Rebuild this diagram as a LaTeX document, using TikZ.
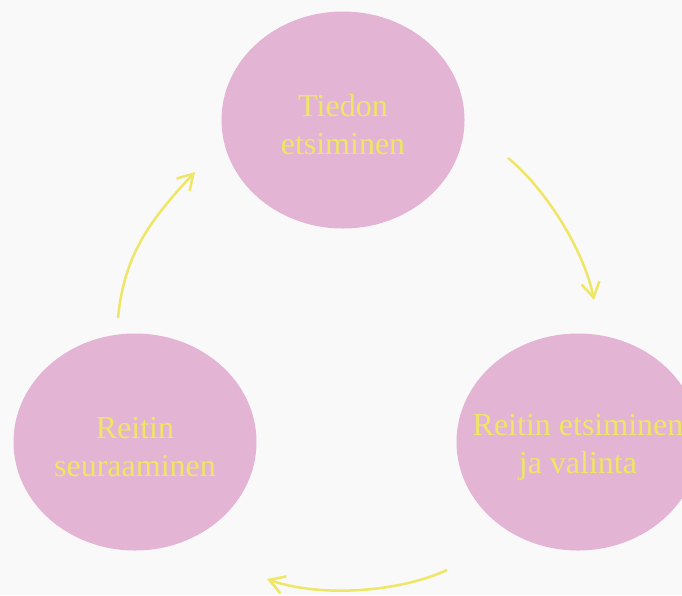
\documentclass[tikz,border=0pt]{standalone}
\usepackage{fontspec}
\setmainfont{Liberation Serif}
\usetikzlibrary{shapes.geometric, arrows.meta}
\definecolor{bgray}{RGB}{249,249,249}
\definecolor{stagepink}{RGB}{228,180,212}
\definecolor{stageyellow}{RGB}{238,230,100}
\tikzset{
  stage/.style = {ellipse, fill = stagepink, inner sep = 0pt,
    minimum width = 243pt, minimum height = 217pt},
  stagetext/.style = {text = stageyellow, align = center, inner sep = 0pt,
    font = \fontsize{32}{38}\selectfont},
  flow/.style = {draw = stageyellow, line width = 2.5pt,
    -{Straight Barb[length = 15pt, width = 18pt, line width = 2.5pt]}}
}

\begin{document}
\begin{tikzpicture}[x = 1pt, y = -1pt]
  \useasboundingbox[fill = bgray] (0, 0) rectangle (682, 595);
  \clip (0, 0) rectangle (682, 595);
  \node[stage] at (343, 120) (search) {};
  \node[stage] at (578, 442) (route) {};
  \node[stage] at (135, 442) (follow) {};
  \node[stagetext] at (343, 125) (searchtext) {Tiedon\\etsiminen};
  \node[stagetext] at (578, 447) (routetext) {Reitin etsiminen\\ja valinta};
  \node[stagetext] at (135, 447) (followtext) {Reitin\\seuraaminen};
  \coordinate (s1) at (508, 158);
  \coordinate (e1) at (594, 300);
  \coordinate (s2) at (447, 570);
  \coordinate (e2) at (267, 579);
  \coordinate (s3) at (118, 318);
  \coordinate (e3) at (195, 172);
  \draw[flow] (s1) .. controls (545, 188) and (584, 250) .. (e1);
  \draw[flow] (s2) .. controls (400, 592) and (320, 598) .. (e2);
  \draw[flow] (s3) .. controls (124, 255) and (150, 220) .. (e3);
\end{tikzpicture}
\end{document}
